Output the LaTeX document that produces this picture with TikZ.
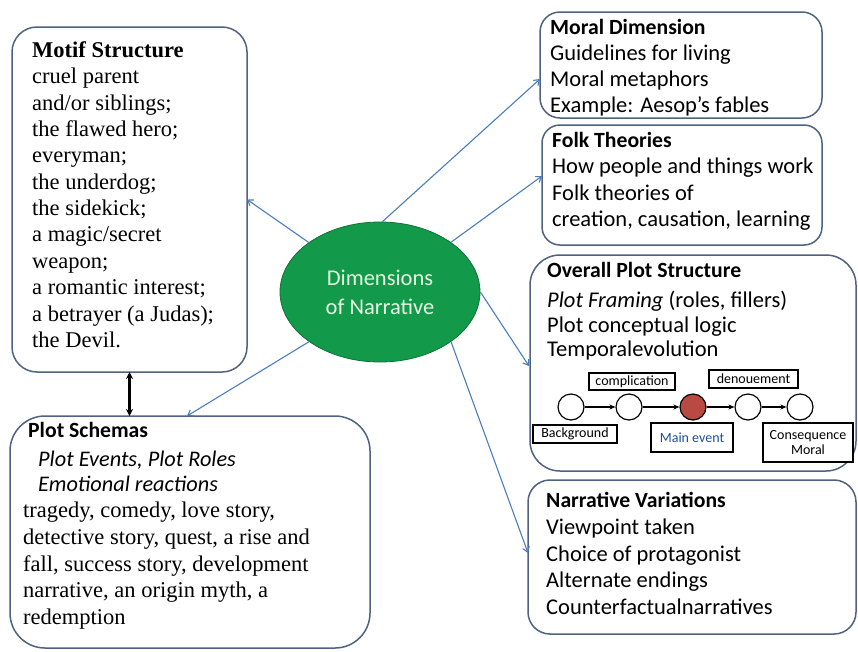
\documentclass[tikz,border=0pt]{standalone}
\usepackage{fontspec}
\setmainfont{Liberation Serif}
\newfontfamily\calfont{Carlito}
\usetikzlibrary{arrows.meta,shapes.geometric}
\definecolor{boxline}{HTML}{4F6280}
\definecolor{arrowblue}{HTML}{4A7EBB}
\definecolor{ellgreen}{HTML}{12994A}
\definecolor{redev}{HTML}{B94A43}
\definecolor{mainblue}{HTML}{1F4E9A}
\definecolor{elltext}{HTML}{E6F6E2}
\begin{document}
\begin{tikzpicture}[x=1pt,y=-1pt,
  bigbox/.style={draw=boxline, line width=1.5pt, fill=white, rounded corners=#1,
    anchor=north west, inner sep=0pt, outer sep=0pt},
  bigbox/.default=20pt,
  serifline/.style={anchor=base west, inner sep=0pt, font=\fontsize{22.5}{26}\selectfont},
  calline/.style={anchor=base west, inner sep=0pt, font=\calfont\fontsize{22.5}{26}\selectfont},
  calbold/.style={anchor=base west, inner sep=0pt, font=\calfont\bfseries\fontsize{21.7}{26}\selectfont},
  bluearrow/.style={draw=arrowblue, line width=1.1pt, -{Straight Barb[length=5pt,width=7pt]}},
  evcircle/.style={circle, draw=black, line width=1.2pt, fill=white, minimum size=26pt, inner sep=0pt},
  evarrow/.style={draw=black, line width=1.3pt, -{Stealth[length=6pt,width=5pt]}},
  lbl/.style={draw=black, line width=1.2pt, fill=white, inner sep=0pt, align=center,
    font=\calfont\fontsize{14}{15.5}\selectfont}
]
\useasboundingbox (0,0) rectangle (858,651);

% ---------- boxes ----------
\node[bigbox=25pt, minimum width=235pt, minimum height=345pt] (motif) at (12,27) {};
\node[bigbox=35pt, minimum width=360pt, minimum height=232pt] (schemas) at (10,416) {};
\node[bigbox=20pt, minimum width=282pt, minimum height=106pt] (moral) at (540,12) {};
\node[bigbox=18pt, minimum width=280pt, minimum height=120pt] (folk) at (542,125) {};
\node[bigbox=30pt, minimum width=326pt, minimum height=216pt] (overall) at (530,255) {};
\node[bigbox=22pt, minimum width=328pt, minimum height=154pt] (variations) at (528,480) {};

% ---------- central ellipse ----------
\node[ellipse, fill=ellgreen, draw=ellgreen!75!black, line width=0.8pt,
      minimum width=200pt, minimum height=140pt, inner sep=0pt, align=center,
      text=elltext, font=\calfont\fontsize{22.5}{29}\selectfont] (ell) at (380,292)
      {Dimensions\\of Narrative};

% ---------- Motif Structure text ----------
\node[serifline, font=\bfseries\fontsize{22.5}{26}\selectfont] (mottitle) at (32,57.5) {Motif Structure};
\foreach \t [count=\i] in {cruel parent, and/or siblings;, the flawed hero;, everyman;,
  the underdog;, the sidekick;, a magic/secret, weapon;, a romantic interest;,
  a betrayer (a Judas);, the Devil.}
  \node[serifline] (mot\i) at (32,{57.5+26.35*\i}) {\t};

% ---------- Plot Schemas text ----------
\node[anchor=base west, inner sep=0pt, font=\calfont\bfseries\fontsize{21.7}{26}\selectfont] (schtitle) at (28,437) {Plot Schemas};
\node[anchor=base west, inner sep=0pt, font=\calfont\itshape\fontsize{22.3}{26}\selectfont] (schit1) at (38,466) {Plot Events, Plot Roles};
\node[anchor=base west, inner sep=0pt, font=\calfont\itshape\fontsize{22.3}{26}\selectfont] (schit2) at (38,491) {Emotional reactions};
\foreach \t [count=\i from 0] in {{tragedy, comedy, love story,}, {detective story, quest, a rise and},
  {fall, success story, development}, {narrative, an origin myth, a}, redemption}
  \node[serifline] (sch\i) at (23,{517.5+26.8*\i}) {\t};

% ---------- Moral Dimension ----------
\node[calbold] (mortitle) at (550,34.5) {Moral Dimension};
\foreach \t [count=\i] in {Guidelines for living, Moral metaphors, Example: Aesop’s fables}
  \node[calline] (mor\i) at (550,{34.5+26*\i}) {\t};

% ---------- Folk Theories ----------
\node[calbold] (folktitle) at (552,147.5) {Folk Theories};
\foreach \t [count=\i] in {How people and things work, Folk theories of, {creation, causation, learning}}
  \node[calline] (folk\i) at (552,{147.5+26.3*\i}) {\t};

% ---------- Overall Plot Structure ----------
\node[calbold] (ovtitle) at (547,277.5) {Overall Plot Structure};
\node[calline] (ov1) at (547,307.5) {\textit{Plot Framing} (roles, fillers)};
\node[calline] (ov2) at (547,332.5) {Plot conceptual logic};
\node[calline] (ov3) at (547,356.5) {Temporalevolution};

\node[evcircle] (c1) at (571,407) {};
\node[evcircle] (c2) at (629,407) {};
\node[evcircle, fill=redev] (c3) at (693,407) {};
\node[evcircle] (c4) at (748,407) {};
\node[evcircle] (c5) at (800,407) {};
\draw[evarrow] (c1) -- (c2);
\draw[evarrow] (c2) -- (c3);
\draw[evarrow] (c3) -- (c4);
\draw[evarrow] (c4) -- (c5);

\node[lbl, minimum width=86pt, minimum height=17pt] (lcomp) at (632,381.5) {complication};
\node[lbl, minimum width=89pt, minimum height=18pt] (lden) at (753.5,379) {denouement};
\node[lbl, minimum width=84pt, minimum height=18pt] (lback) at (575,434) {Background};
\node[lbl, minimum width=82pt, minimum height=29pt, text=mainblue] (lmain) at (692,437.5) {Main event};
\node[lbl, minimum width=90pt, minimum height=39pt] (lcons) at (808,442.5) {Consequence\\Moral};

% ---------- Narrative Variations ----------
\node[calbold] (nvtitle) at (546,507.5) {Narrative Variations};
\foreach \t [count=\i] in {Viewpoint taken, Choice of protagonist, Alternate endings, Counterfactualnarratives}
  \node[calline] (nv\i) at (546,{507.5+26.8*\i}) {\t};

% ---------- connectors ----------
\coordinate (moralin) at (540,79);
\coordinate (folkin) at (542,176);
\coordinate (overin) at (529,366);
\coordinate (varin) at (528,553);
\coordinate (schin) at (187,416);

\draw[bluearrow] (ell) -- (motif.east);
\draw[bluearrow] (ell.88) -- (moralin);
\draw[bluearrow] (ell.35) -- (folkin);
\draw[bluearrow] (ell.0) -- (overin);
\draw[bluearrow] (ell.-35) -- (varin);
\draw[bluearrow] (ell.215) -- (schin);

\draw[line width=2.2pt, {Stealth[length=7pt,width=7pt]}-{Stealth[length=7pt,width=7pt]}]
  (motif.south) -- (motif.south |- schemas.north);
\end{tikzpicture}
\end{document}
